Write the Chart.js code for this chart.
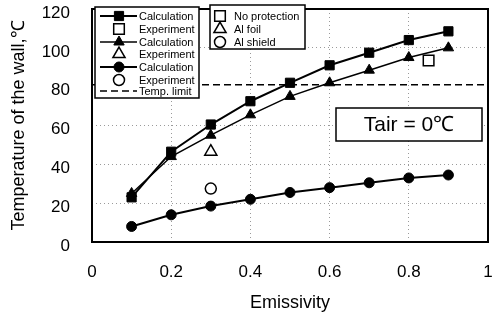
<!DOCTYPE html>
<html>
<head>
<meta charset="utf-8">
<script src="https://cdn.jsdelivr.net/npm/chart.js@4.4.0/dist/chart.umd.min.js"></script>
<style>
  html, body { margin: 0; padding: 0; background: #fff; overflow: hidden; }
  #wallChart { display: block; }
</style>
</head>
<body>
<canvas id="wallChart" width="497" height="319"></canvas>
<script>
// values
const emissivity = [0.1, 0.2, 0.3, 0.4, 0.5, 0.6, 0.7, 0.8, 0.9];
const calcNoProtection = [23, 46.5, 60.5, 72.5, 82, 91, 97.5, 104, 108.5];
const calcAlFoil = [25, 44, 55, 65.5, 75, 82, 88.5, 95, 100];
const calcAlShield = [8, 14, 18.5, 22, 25.5, 28, 30.5, 33, 34.5];

const expNoProtectionX = [0.85];
const expNoProtectionY = [93.5];
const expAlFoilX = [0.3];
const expAlFoilY = [46.5];
const expAlShieldX = [0.3];
const expAlShieldY = [27.5];

const tempLimit = 81;
const limitX = [0, 1];

const xTicks = [0, 0.2, 0.4, 0.6, 0.8, 1];
const yTicks = [0, 20, 40, 60, 80, 100, 120];

const toPoints = (xs, ys) => xs.map((x, i) => ({x: x, y: ys[i]}));

const FONT = '"Liberation Sans", Arial, sans-serif';
Chart.defaults.font.family = FONT;
Chart.defaults.color = '#000';

const boxesPlugin = {
    id: 'boxes',
    afterDraw(chart) {
        const ctx = chart.ctx;
        const area = chart.chartArea;
        const ds = chart.data.datasets;

        // frame round the plot
        ctx.save();
        ctx.strokeStyle = '#000';
        ctx.lineWidth = 2;
        ctx.strokeRect(area.left, area.top, area.right - area.left, area.bottom - area.top);
        ctx.restore();

        const marker = (d, x, y) => {
            ctx.save();
            ctx.fillStyle = d.pointBackgroundColor;
            ctx.strokeStyle = d.pointBorderColor;
            ctx.lineWidth = d.pointBorderWidth;
            Chart.helpers.drawPoint(ctx, {
                pointStyle: d.pointStyle, radius: d.pointRadius, rotation: 0,
                borderWidth: d.pointBorderWidth
            }, x, y);
            ctx.restore();
        };
        const line = (d, x1, x2, y) => {
            ctx.save();
            ctx.strokeStyle = d.borderColor;
            ctx.lineWidth = d.borderWidth;
            ctx.setLineDash(d.borderDash || []);
            ctx.beginPath();
            ctx.moveTo(x1, y);
            ctx.lineTo(x2, y);
            ctx.stroke();
            ctx.restore();
        };
        const box = (x, y, w, h) => {
            ctx.save();
            ctx.fillStyle = '#fff';
            ctx.fillRect(x, y, w, h);
            ctx.strokeStyle = '#000';
            ctx.lineWidth = 1.5;
            ctx.strokeRect(x, y, w, h);
            ctx.restore();
        };
        const label = (txt, x, y, size) => {
            ctx.save();
            ctx.fillStyle = '#000';
            ctx.font = size + 'px ' + FONT;
            ctx.textBaseline = 'middle';
            ctx.textAlign = 'left';
            ctx.fillText(txt, x, y);
            ctx.restore();
        };

        // legend of series
        box(95, 7, 104, 91);
        const rows = [16, 29, 42, 54, 67, 80, 91];
        const order = [0, 3, 1, 4, 2, 5, 6];
        order.forEach((k, i) => {
            const d = ds[k];
            if (d.showLine) line(d, 100, 137, rows[i]);
            if (d.pointRadius > 0) marker(d, 119, rows[i]);
            label(d.label, 139, rows[i] + 0.5, 11);
        });

        // legend of protection types
        box(210, 5, 95, 44);
        const caseNames = ['No protection', 'Al foil', 'Al shield'];
        [3, 4, 5].forEach((k, i) => {
            marker(ds[k], 220, [16, 29, 42][i]);
            label(caseNames[i], 234, [16, 29, 42][i] + 0.5, 11);
        });

        // air temperature note
        box(336, 108, 146, 33);
        ctx.save();
        ctx.fillStyle = '#000';
        ctx.font = '21px ' + FONT;
        ctx.textAlign = 'center';
        ctx.textBaseline = 'middle';
        ctx.fillText('Tair = 0\u2103', 409, 125);
        ctx.restore();
    }
};

const calcStyle = (label, data, style, r, w) => ({
    label: label,
    data: data,
    showLine: true,
    borderColor: '#000',
    borderWidth: w,
    pointStyle: style,
    pointRadius: r,
    pointBackgroundColor: '#000',
    pointBorderColor: '#000',
    pointBorderWidth: 1
});
const expStyle = (label, data, style, r) => ({
    label: label,
    data: data,
    showLine: false,
    borderColor: '#000',
    pointStyle: style,
    pointRadius: r,
    pointBackgroundColor: '#fff',
    pointBorderColor: '#000',
    pointBorderWidth: 1.5
});

new Chart(document.getElementById('wallChart'), {
    type: 'scatter',
    data: {
        datasets: [
            calcStyle('Calculation', toPoints(emissivity, calcNoProtection), 'rect', 6.5, 2),
            calcStyle('Calculation', toPoints(emissivity, calcAlFoil), 'triangle', 6, 1.5),
            calcStyle('Calculation', toPoints(emissivity, calcAlShield), 'circle', 5, 2),
            expStyle('Experiment', toPoints(expNoProtectionX, expNoProtectionY), 'rect', 7.5),
            expStyle('Experiment', toPoints(expAlFoilX, expAlFoilY), 'triangle', 7),
            expStyle('Experiment', toPoints(expAlShieldX, expAlShieldY), 'circle', 5.5),
            {
                label: 'Temp. limit',
                data: toPoints(limitX, limitX.map(() => tempLimit)),
                showLine: true,
                borderColor: '#000',
                borderWidth: 1.5,
                borderDash: [7, 4],
                pointRadius: 0
            }
        ]
    },
    options: {
        responsive: false,
        animation: false,
        devicePixelRatio: 1,
        layout: {padding: {left: 0, right: 5, top: 4, bottom: 0}},
        plugins: {legend: {display: false}, tooltip: {enabled: false}},
        scales: {
            x: {
                type: 'linear',
                min: 0,
                max: 1,
                afterBuildTicks: (s) => { s.ticks = xTicks.map(v => ({value: v})); },
                afterFit: (s) => { s.height = 77; s.paddingLeft = 0; s.paddingRight = 0; },
                ticks: {
                    font: {size: 17},
                    padding: 20,
                    maxRotation: 0,
                    callback: (v) => String(v)
                },
                grid: {
                    drawTicks: false,
                    lineWidth: 1,
                    color: (c) => (c.tick && (c.tick.value === 0 || c.tick.value === 1)) ? 'rgba(0,0,0,0)' : '#9a9a9a'
                },
                border: {display: false, dash: [1, 3]},
                title: {
                    display: true,
                    text: 'Emissivity',
                    font: {size: 18},
                    padding: {top: 0, bottom: 5}
                }
            },
            y: {
                type: 'linear',
                min: 0,
                max: 120,
                afterBuildTicks: (s) => { s.ticks = yTicks.map(v => ({value: v})); },
                afterFit: (s) => { s.width = 92; s.paddingTop = 0; s.paddingBottom = 0; },
                ticks: {
                    font: {size: 17},
                    padding: 22,
                    labelOffset: 4
                },
                grid: {
                    drawTicks: false,
                    lineWidth: 1,
                    color: (c) => (c.tick && [0, 80, 120].includes(c.tick.value)) ? 'rgba(0,0,0,0)' : '#9a9a9a'
                },
                border: {display: false, dash: [1, 3]},
                title: {
                    display: true,
                    text: 'Temperature of the wall,\u2103',
                    font: {size: 18},
                    padding: {top: 8, bottom: 0}
                }
            }
        }
    },
    plugins: [boxesPlugin]
});
</script>
</body>
</html>
